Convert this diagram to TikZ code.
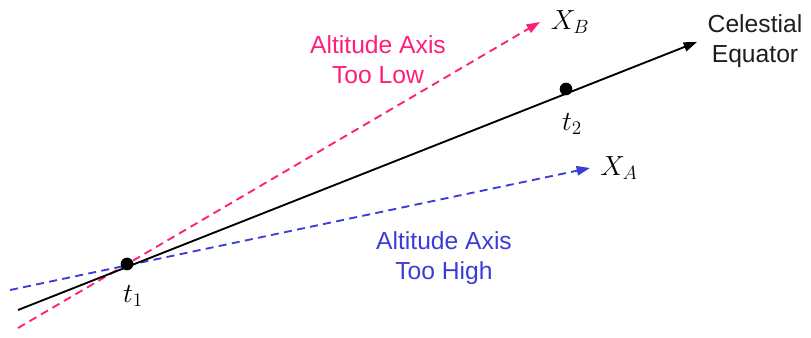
\documentclass[tikz,border=0pt]{standalone}
\usepackage{fontspec}
\setsansfont{Liberation Sans}
\usetikzlibrary{arrows.meta, positioning}
\definecolor{lowpink}{RGB}{255,30,120}
\definecolor{highblue}{RGB}{60,60,215}
\definecolor{labelgray}{RGB}{30,30,30}
\tikzset{
  axis/.style={line width=1.4pt, -{Triangle[length=10pt,width=7pt]}},
  eqline/.style={axis, black},
  lowline/.style={axis, lowpink, dash pattern=on 6pt off 4pt},
  highline/.style={axis, highblue, dash pattern=on 6pt off 4pt},
  dot/.style={circle, fill=black, inner sep=0pt, minimum size=9.5pt},
  tlbl/.style={font=\fontsize{20}{22}\selectfont, inner sep=0pt},
  note/.style={align=center, font=\sffamily\fontsize{18.5}{22.5}\selectfont, inner sep=0pt}
}

\begin{document}
\begin{tikzpicture}[x=0.75pt, y=-0.75pt]
  \useasboundingbox (0,0) rectangle (811,337);

  % end points of the three axes
  \coordinate (eqS)   at (18,310);
  \coordinate (eqE)   at (697,42);
  \coordinate (lowS)  at (18,328);
  \coordinate (lowE)  at (540,22);
  \coordinate (highS) at (10,290);
  \coordinate (highE) at (590,168);

  \draw[lowline]  (lowS)  -- (lowE);
  \draw[highline] (highS) -- (highE);
  \draw[eqline]   (eqS)   -- (eqE);

  \node[dot] (t1) at (127,264) {};
  \node[dot] (t2) at (566,89)  {};

  \node[tlbl] (t1lbl) at (133,296) {$t_1$};
  \node[tlbl] (t2lbl) at (572,124) {$t_2$};
  \node[tlbl] (xb)    at (570,22)  {$X_B$};
  \node[tlbl] (xa)    at (619,168) {$X_A$};

  \node[note, text=labelgray] (eq)  at (755,41)  {Celestial\\Equator};
  \node[note, text=lowpink]   (low) at (378,60)  {Altitude Axis\\Too Low};
  \node[note, text=highblue]  (hi)  at (444,258) {Altitude Axis\\Too High};
\end{tikzpicture}
\end{document}
